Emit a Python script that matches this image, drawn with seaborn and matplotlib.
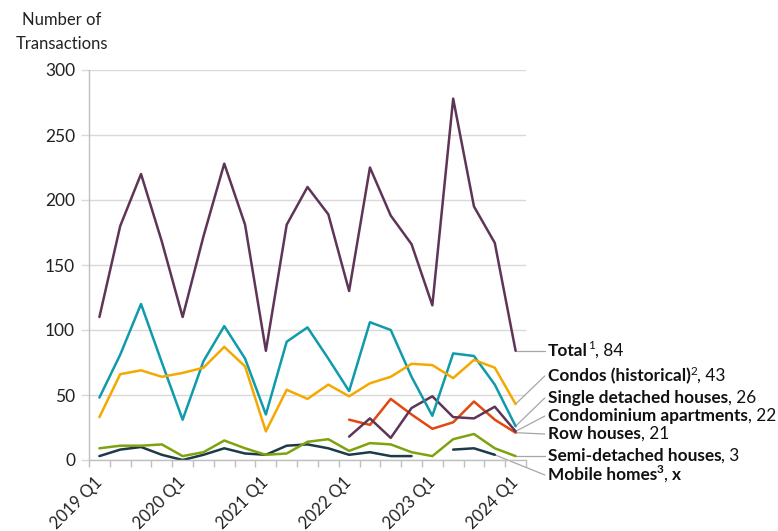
import numpy as np
import pandas as pd
import matplotlib
matplotlib.use("Agg")
import matplotlib.pyplot as plt
import seaborn as sns

quarters = ["2019 Q1", "2019 Q2", "2019 Q3", "2019 Q4",
            "2020 Q1", "2020 Q2", "2020 Q3", "2020 Q4",
            "2021 Q1", "2021 Q2", "2021 Q3", "2021 Q4",
            "2022 Q1", "2022 Q2", "2022 Q3", "2022 Q4",
            "2023 Q1", "2023 Q2", "2023 Q3", "2023 Q4",
            "2024 Q1"]
nan = np.nan
total = [110, 180, 220, 168, 110, 172, 228, 181, 84, 181, 210, 189,
         130, 225, 188, 166, 119, 278, 195, 167, 84]
condos_hist = [33, 66, 69, 64, 67, 71, 87, 72, 22, 54, 47, 58,
               49, 59, 64, 74, 73, 63, 77, 71, 43]
single = [48, 81, 120, 75, 31, 76, 103, 78, 35, 91, 102, 78,
          53, 106, 100, 64, 34, 82, 80, 58, 26]
condo_apts = [nan] * 12 + [18, 32, 17, 40, 49, 33, 32, 41, 22]
row_houses = [nan] * 12 + [31, 27, 47, 35, 24, 29, 45, 31, 21]
semi = [9, 11, 11, 12, 3, 6, 15, 9, 4, 5, 14, 16,
        7, 13, 12, 6, 3, 16, 20, 9, 3]
mobile = [3, 8, 10, 4, 0, 4, 9, 5, 4, 11, 12, 9,
          4, 6, 3, 3, nan, 8, 9, 4, nan]

series = [
    ("Total", total, "#5e3556", [("Total", "bold", False), ("1", "normal", True), (", 84", "normal", False)]),
    ("Condos (historical)", condos_hist, "#f5a800", [("Condos (historical)", "bold", False), ("2", "normal", True), (", 43", "normal", False)]),
    ("Single detached houses", single, "#0f9bab", [("Single detached houses", "bold", False), (", 26", "normal", False)]),
    ("Condominium apartments", condo_apts, "#5e3556", [("Condominium apartments", "bold", False), (", 22", "normal", False)]),
    ("Row houses", row_houses, "#e2470f", [("Row houses", "bold", False), (", 21", "normal", False)]),
    ("Semi-detached houses", semi, "#7fa30f", [("Semi-detached houses", "bold", False), (", 3", "normal", False)]),
    ("Mobile homes", mobile, "#1d3a48", [("Mobile homes", "bold", False), ("3", "bold", True), (", ", "normal", False), ("x", "bold", False)]),
]
label_y = [84, 64.6, 47.7, 33.8, 20, 3, -11.5]

sns.set_style("white")
plt.rcParams["font.family"] = ["Lato", "DejaVu Sans"]

fig = plt.figure(figsize=(7.78, 5.31), dpi=100)
ax = fig.add_axes([89 / 778, 1 - 460 / 531, (526 - 89) / 778, (460 - 70) / 531])

xs = np.arange(len(quarters))
for name, vals, color, _ in series[::-1]:
    arr = np.array(vals, dtype=float)
    seg = np.cumsum(np.isnan(arr))
    df = pd.DataFrame({"x": xs, "y": arr, "seg": seg}).dropna()
    for s, g in df.groupby("seg"):
        sns.lineplot(data=g, x="x", y="y", ax=ax, color=color, lw=1.8,
                     estimator=None, sort=False, legend=False)

ax.set_xlim(-0.5, 20.5)
ax.set_ylim(0, 300)
ax.set_yticks(range(0, 301, 50))
ax.set_xticks(range(0, 21, 4))
ax.set_xticklabels([quarters[i] for i in range(0, 21, 4)], rotation=45,
                   ha="right", va="center", rotation_mode="anchor")
ax.set_xticks(np.arange(-0.5, 21, 1), minor=True)
ax.tick_params(axis="x", which="major", length=0, pad=14, labelsize=12, colors="#222222")
ax.tick_params(axis="x", which="minor", length=5, width=1, color="#bfbfbf", bottom=True)
ax.tick_params(axis="y", which="major", length=6, width=1, color="#d9d9d9", pad=4,
               labelsize=12.5, labelcolor="#222222", left=True)
ax.set_xlabel("")
ax.set_ylabel("")
ax.grid(axis="y", color="#d9d9d9", lw=1)
ax.set_axisbelow(True)
for sp in ["top", "right"]:
    ax.spines[sp].set_visible(False)
ax.spines["left"].set_color("#bfbfbf")
ax.spines["bottom"].set_color("#bfbfbf")
ax.spines["left"].set_linewidth(1)
ax.spines["bottom"].set_linewidth(1)

fig.text(62 / 778, 1 - 32 / 531, "Number of\nTransactions", ha="center", va="center",
         fontsize=12, linespacing=1.6, color="#222222")

fig.canvas.draw()
renderer = fig.canvas.get_renderer()
x_line_end = 21.4
x_text = 21.55
for (name, vals, color, parts), ly in zip(series, label_y):
    arr = np.array(vals, dtype=float)
    idx = np.where(~np.isnan(arr))[0][-1]
    ax.plot([xs[idx], x_line_end], [arr[idx], ly], color="#a6a6a6", lw=0.9,
            clip_on=False, zorder=1)
    px, py = ax.transData.transform((x_text, ly))
    for txt, weight, sup in parts:
        fs = 8.5 if sup else 12.4
        yy = py + (5 if sup else 0)
        t = fig.text(px / fig.dpi / fig.get_figwidth(), yy / fig.dpi / fig.get_figheight(),
                     txt, fontsize=fs, fontweight=weight, ha="left", va="center",
                     color="#111111")
        bb = t.get_window_extent(renderer)
        px = bb.x1

fig.savefig("out.png", dpi=100)
